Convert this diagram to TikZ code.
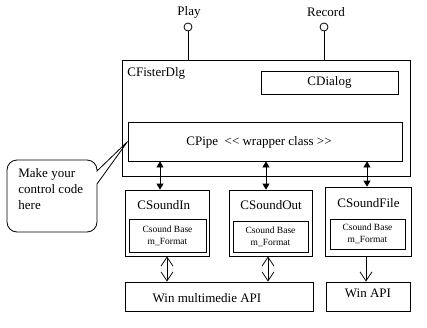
\documentclass[tikz,border=0pt]{standalone}
\usepackage{fontspec}
\setmainfont{Liberation Serif}
\usetikzlibrary{arrows.meta}
\begin{document}
\begin{tikzpicture}[x=1pt, y=-1pt, line width=0.8pt,
  every node/.style={font=\fontsize{13}{16}\selectfont},
  box/.style={draw,inner sep=0pt},
  lbl/.style={anchor=west,inner sep=0pt},
  small/.style={font=\fontsize{9.5}{12}\selectfont,align=center},
  port/.style={draw,circle,minimum size=8pt,inner sep=0pt},
  pipearrow/.style={{Triangle[length=6pt,width=7pt]}-{Triangle[length=6pt,width=7pt]}},
  apiarrow/.style={{Straight Barb[length=9pt,width=12pt]}-{Straight Barb[length=9pt,width=12pt]}}]
\useasboundingbox (0,0) rectangle (427,327);
% ports
\node (playtext) at (189,12) {Play};
\node (rectext) at (326,12) {Record};
\node[port] (play) at (188,27) {};
\node[port] (rec) at (324,27) {};
% dialog
\node[box,minimum width=288pt,minimum height=116pt] (dlg) at (266,118) {};
\node[lbl] (dlgname) at (127,73) {CFisterDlg};
\node[box,minimum width=137pt,minimum height=23pt] (cdialog) at (329.5,82.5) {CDialog};
\node[box,minimum width=274pt,minimum height=39pt] (pipe) at (265,141.5) {};
\node (pipetext) at (259,142) {CPipe\ \ <\kern0pt< wrapper class >\kern0pt>};
\draw (play.south) -- (play.south |- dlg.north);
\draw (rec.south) -- (rec.south |- dlg.north);
% sound classes
\node[box,minimum width=84pt,minimum height=66pt] (in) at (167,223) {};
\node[lbl] (inname) at (137,205) {CSoundIn};
\node[box,small,minimum width=77pt,minimum height=33pt] (inbase) at (167.5,235.5) {Csound Base\\m\_Format};
\node[box,minimum width=83pt,minimum height=66pt] (out) at (270.5,223) {};
\node[lbl] (outname) at (240,205) {CSoundOut};
\node[box,small,minimum width=75pt,minimum height=31pt] (outbase) at (270.5,236.5) {Csound Base\\m\_Format};
\node[box,minimum width=86pt,minimum height=69pt] (file) at (368,221.5) {};
\node[lbl] (filename) at (337,203) {CSoundFile};
\node[box,small,minimum width=75pt,minimum height=30pt] (filebase) at (367.5,234) {Csound Base\\m\_Format};
\draw[pipearrow] ([xshift=-7pt]in.north |- pipe.south) -- ([xshift=-7pt]in.north);
\draw[pipearrow] ([xshift=-4.5pt]out.north |- pipe.south) -- ([xshift=-4.5pt]out.north);
\draw[pipearrow] ([xshift=-1pt]file.north |- pipe.south) -- ([xshift=-1pt]file.north);
% apis
\node[box,minimum width=188pt,minimum height=29pt] (mm) at (219,296.5) {};
\node (mmtext) at (207,298) {Win multimedie API};
\node[box,minimum width=84pt,minimum height=29pt] (api) at (368,296.5) {};
\node (apitext) at (368,293) {Win API};
\draw[apiarrow] (in.south) -- (in.south |- mm.north);
\draw[apiarrow] ([xshift=-2.5pt]out.south) -- ([xshift=-2.5pt]out.south |- mm.north);
\draw[-{Straight Barb[length=9pt,width=12pt]}] ([xshift=-2pt]file.south) -- ([xshift=-2pt]file.south |- api.north);
% note
\draw[rounded corners=10pt] (97,184) -- (97,232) -- (7,232) -- (7,160) -- (97,160) [sharp corners] -- (97,171) -- (pipe.west) -- cycle;
\node[align=left,anchor=west,inner sep=0pt] (note) at (18,189) {Make your\\control code\\here};
\end{tikzpicture}
\end{document}
